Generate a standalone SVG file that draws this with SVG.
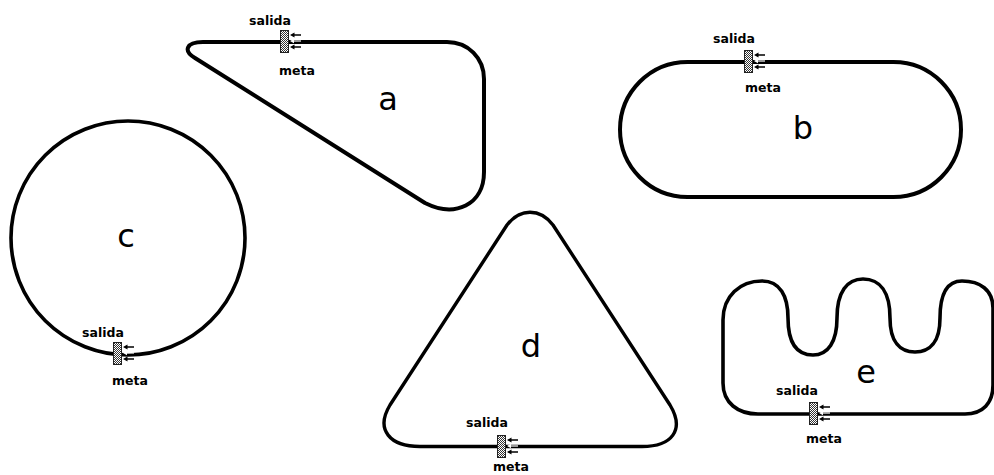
<svg xmlns="http://www.w3.org/2000/svg" xmlns:xlink="http://www.w3.org/1999/xlink" width="994" height="475" viewBox="0 0 994 475">
<style>
.trk{fill:none;stroke:#000;stroke-width:4;stroke-linejoin:round;stroke-linecap:round}
.lbl{font-family:"DejaVu Sans","Liberation Sans",sans-serif;font-size:32px;fill:#000;text-anchor:middle}
.sm{font-family:"DejaVu Sans","Liberation Sans",sans-serif;font-size:12.5px;font-weight:bold;fill:#000;text-anchor:middle}
</style>
<defs>
<pattern id="chk" width="2" height="2" patternUnits="userSpaceOnUse">
<rect width="2" height="2" fill="#fff"/>
<rect width="1" height="1" fill="#333"/>
<rect x="1" y="1" width="1" height="1" fill="#333"/>
</pattern>
<g id="flag">
<rect x="0.5" y="0.5" width="8" height="22" fill="url(#chk)" stroke="#222" stroke-width="1"/>
<path d="M13 5 H21 M13 17 H21" stroke="#000" stroke-width="1.4"/>
<path d="M10 5 L14.5 2.5 L14.5 7.5 Z M10 17 L14.5 14.5 L14.5 19.5 Z" fill="#000"/>
<path d="M13 11 H21" stroke="#fff" stroke-width="1.2"/>
<path d="M10 11 L14 8.8 L14 13.2 Z" fill="#fff"/>
</g>
</defs>
<rect width="994" height="475" fill="#fff"/>

<g id="track-a">
<path class="trk" d="M203 42 L447 42 C468 42 484 58 484 79 L484 172 C484 205 455 218 425 203 L195 58 C183 51 186 42 203 42 Z"/>
<use xlink:href="#flag" href="#flag" x="280" y="30"/>
<text class="sm" x="270" y="25">salida</text>
<text class="sm" x="297" y="75">meta</text>
<text class="lbl" x="388" y="110">a</text>
</g>

<g id="track-b">
<path class="trk" d="M687.5 62 L893.5 62 A67.5 67.5 0 0 1 893.5 197 L687.5 197 A67.5 67.5 0 0 1 687.5 62 Z"/>
<use xlink:href="#flag" href="#flag" x="744" y="50"/>
<text class="sm" x="734" y="43">salida</text>
<text class="sm" x="763" y="92">meta</text>
<text class="lbl" x="803" y="139">b</text>
</g>

<g id="track-c">
<circle class="trk" cx="128" cy="238" r="117" style="stroke-width:3.6"/>
<use xlink:href="#flag" href="#flag" x="113" y="342"/>
<text class="sm" x="103" y="337">salida</text>
<text class="sm" x="130" y="385">meta</text>
<text class="lbl" x="126" y="247">c</text>
</g>

<g id="track-d">
<path class="trk" style="stroke-width:3.4" d="M420 446.5 L642 446.5 C672 446.5 685 430 670 405 L553 225 C540 208 520 208 507 225 L390 405 C375 430 390 446.5 420 446.5 Z"/>
<use xlink:href="#flag" href="#flag" x="497" y="435"/>
<text class="sm" x="487" y="427">salida</text>
<text class="sm" x="511" y="471">meta</text>
<text class="lbl" x="531" y="357">d</text>
</g>

<g id="track-e">
<path class="trk" style="stroke-width:3.6" d="M723 383 L723 320 C723 296 740 281 762 281 C780 281 788 296 788 318 C788 345 798 355 813 355 C828 355 837 342 837 318 C837 292 847 279 863 279 C880 279 890 292 890 318 C890 342 900 352 915 352 C930 352 940 342 940 318 C940 293 948 281 962 281 C980 281 993 290 993 308 L993 385 C993 403 983 414 965 414 L758 414 C738 414 723 403 723 383 Z"/>
<use xlink:href="#flag" href="#flag" x="809" y="402"/>
<text class="sm" x="797" y="395">salida</text>
<text class="sm" x="824" y="443">meta</text>
<text class="lbl" x="866" y="383">e</text>
</g>
</svg>
